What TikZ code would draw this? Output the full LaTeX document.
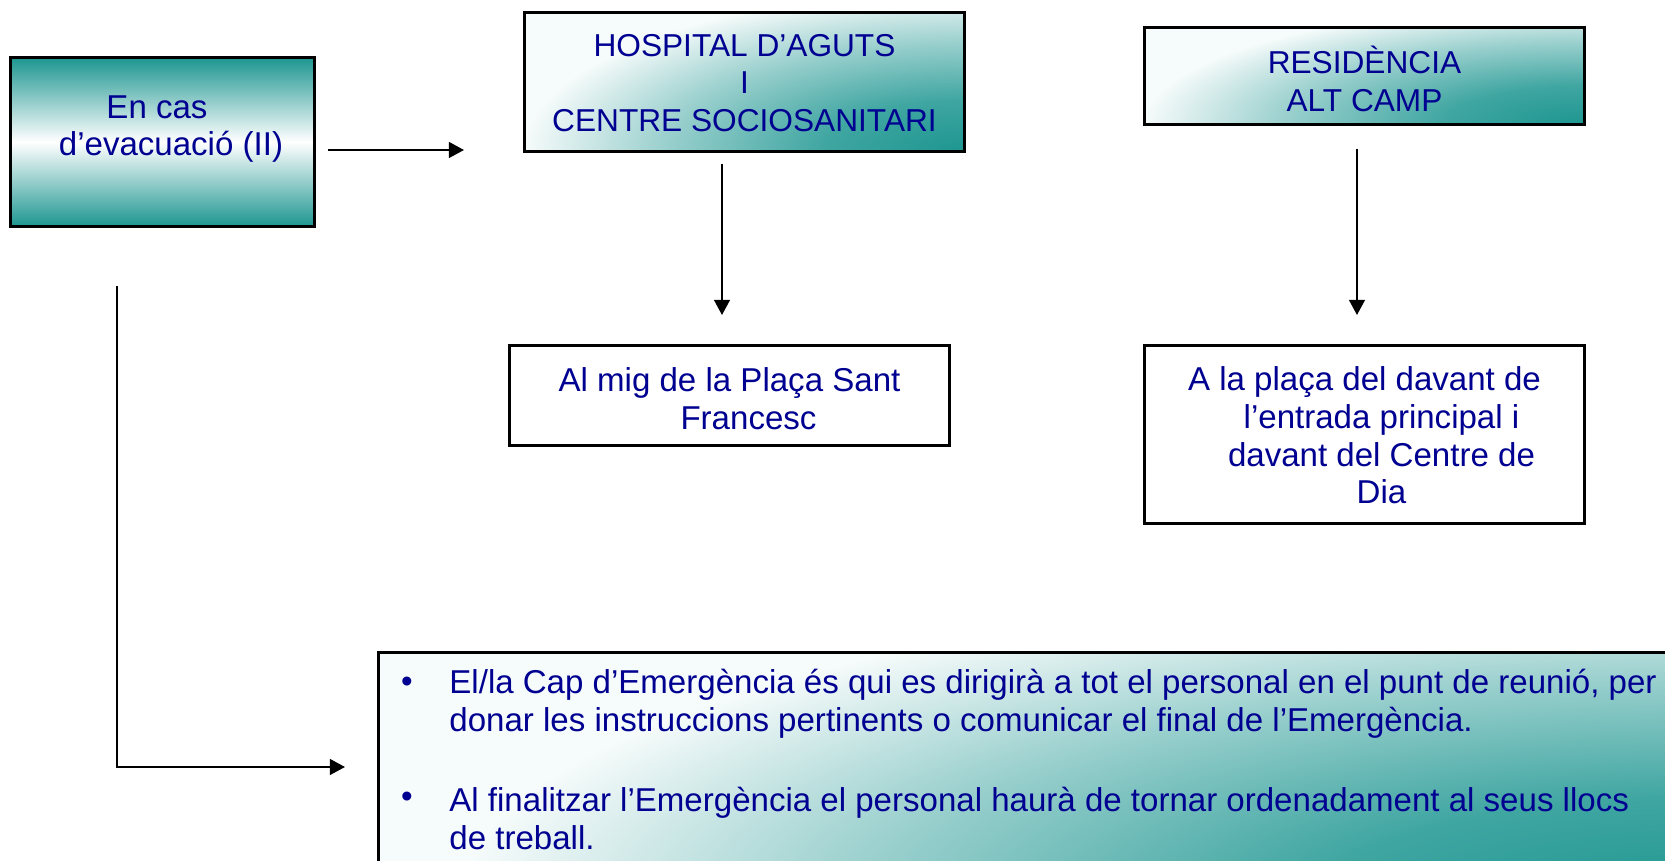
\documentclass[tikz,border=0pt]{standalone}
\usepackage{fontspec}
\setmainfont{Liberation Sans}
\usetikzlibrary{arrows.meta}
\definecolor{navy}{RGB}{0,0,145}
\definecolor{tealbox}{RGB}{30,150,145}
\pgfdeclareradialshading{cornerteal}{\pgfpoint{0bp}{0bp}}{color(0bp)=(tealbox);color(4bp)=(tealbox!85!white);color(8.5bp)=(tealbox!45!white);color(12.5bp)=(white!96!tealbox);color(50bp)=(white!96!tealbox)}
\tikzset{
  box/.style={draw=black,line width=0.85pt,rectangle,inner sep=0pt},
  cornerbox/.style 2 args={box,fill=white!96!tealbox,path picture={\shade[shading=cornerteal] (path picture bounding box.south east) ellipse (#1 and #2);}},
  txt/.style={text=navy,align=center,font=\fontsize{9.4}{10.7}\selectfont},
  captxt/.style={txt,font=\fontsize{9}{10.7}\selectfont},
  arr/.style={line width=0.55pt,-{Triangle[length=4.3pt,width=4.5pt]}}
}
\begin{document}
\begin{tikzpicture}[x=0.01cm,y=-0.01cm]
  \clip (0,0) rectangle (1665,861);
  \fill[white] (0,0) rectangle (1665,861);
  % boxes
  \node[box,minimum width=3.03cm,minimum height=1.68cm,top color=tealbox,bottom color=tealbox,middle color=white] (evac) at (162.5,142) {};
  \node[txt] (evactxt) at (171,129) {En cas\hspace*{0.28cm}\\d’evacuació (II)};
  \node[cornerbox={8.8cm}{3.2cm},minimum width=4.39cm,minimum height=1.38cm] (hosp) at (744.5,82) {};
  \node[captxt] (hosptxt) at (744.5,83) {HOSPITAL D’AGUTS\\I\\CENTRE SOCIOSANITARI};
  \node[cornerbox={8.8cm}{2.4cm},minimum width=4.39cm,minimum height=0.96cm] (resid) at (1364.5,76) {};
  \node[captxt] (residtxt) at (1364.5,79) {RESIDÈNCIA\\ALT CAMP};
  \node[box,fill=white,minimum width=4.39cm,minimum height=0.99cm] (sant) at (729.5,395.5) {};
  \node[txt] (santtxt) at (729.5,398.5) {Al mig de la Plaça Sant\\\hspace*{0.38cm}Francesc};
  \node[box,fill=white,minimum width=4.39cm,minimum height=1.77cm] (davant) at (1364.5,434.5) {};
  \node[txt] (davanttxt) at (1364.5,435.5) {A la plaça del davant de\\\hspace*{0.34cm}l’entrada principal i\\\hspace*{0.34cm}davant del Centre de\\\hspace*{0.34cm}Dia};
  \node[cornerbox={25cm}{6.6cm},anchor=north west,minimum width=13.3cm,minimum height=2.5cm] (notes) at (377,651) {};
  \node[txt] (dot1) at (407,685) {•};
  \node[txt,anchor=west,align=left] (item1) at (437,703.5) {El/la Cap d’Emergència és qui es dirigirà a tot el personal en el punt de reunió, per\\donar les instruccions pertinents o comunicar el final de l’Emergència.};
  \node[txt] (dot2) at (407,800) {•};
  \node[txt,anchor=west,align=left] (item2) at (437,818.5) {Al finalitzar l’Emergència el personal haurà de tornar ordenadament al seus llocs\\de treball.};
  % arrows
  \coordinate (a1s) at (328,150);
  \coordinate (a1e) at (464,150);
  \coordinate (a2s) at (722,164);
  \coordinate (a2e) at (722,315);
  \coordinate (a3s) at (1357,149);
  \coordinate (a3e) at (1357,315);
  \coordinate (a4s) at (117,286);
  \coordinate (a4e) at (345,767);
  \draw[arr] (a1s) -- (a1e);
  \draw[arr] (a2s) -- (a2e);
  \draw[arr] (a3s) -- (a3e);
  \draw[arr] (a4s) |- (a4e);
\end{tikzpicture}
\end{document}
